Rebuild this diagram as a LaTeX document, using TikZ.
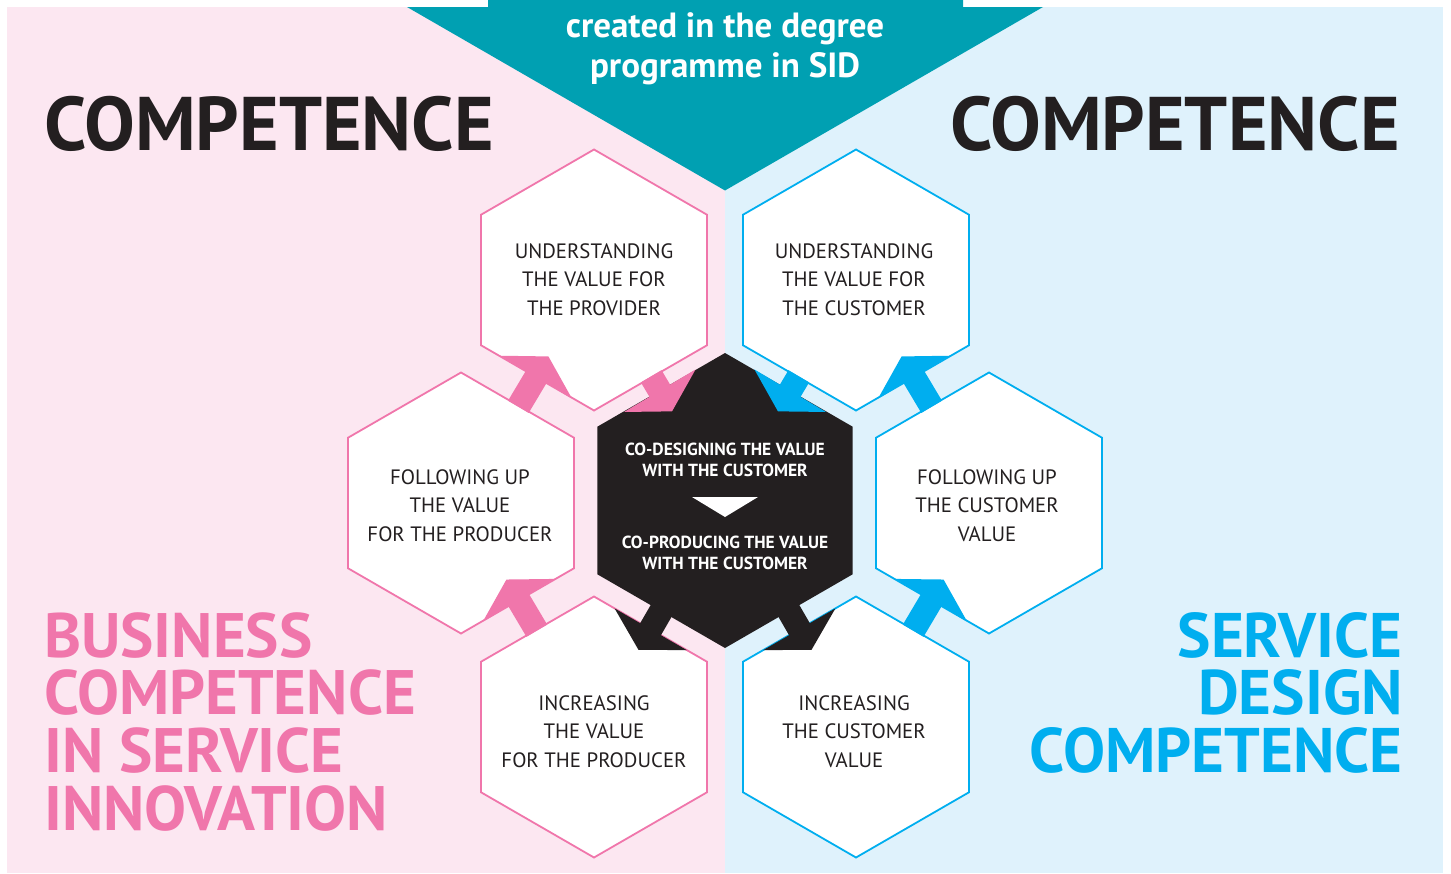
\documentclass[tikz,border=0pt]{standalone}
\usepackage{fontspec}
\setmainfont{PT Sans}
\usetikzlibrary{calc}
\definecolor{bgpink}{HTML}{FCE7F1}
\definecolor{bgblue}{HTML}{DFF2FC}
\definecolor{mpink}{HTML}{F076AB}
\definecolor{mblue}{HTML}{00AEEF}
\definecolor{mteal}{HTML}{00A0B2}
\definecolor{mblack}{HTML}{231F20}
\newcommand\hexshape[3]{%
  \path[#3] ($(#1)+(90:#2)$) -- ($(#1)+(30:#2)$) -- ($(#1)+(-30:#2)$) -- ($(#1)+(-90:#2)$) -- ($(#1)+(-150:#2)$) -- ($(#1)+(150:#2)$) -- cycle;}
\newcommand\flowarrow[6]{%
  \coordinate (fa-#1-#2) at ($(#1)!#3!(#2)$);
  \coordinate (fb-#1-#2) at ($(#2)!#4!(#1)$);
  \coordinate (tip-#1-#2) at ($(#2)!#5!(#1)$);
  \fill[#6] (tip-#1-#2) -- ($(fb-#1-#2)!41.6pt!90:(#1)$) -- ($(fb-#1-#2)!41.6pt!-90:(#1)$) -- cycle;
  \draw[#6, line width=24pt] ($(fa-#1-#2)!-1pt!(fb-#1-#2)$) -- ($(fb-#1-#2)!-1pt!(fa-#1-#2)$);}
\begin{document}
\begin{tikzpicture}[x=1pt,y=-1pt,
  hexpink/.style={fill=white, draw=mpink, line width=1.8pt},
  hexblue/.style={fill=white, draw=mblue, line width=1.8pt},
  hexcore/.style={fill=mblack},
  hextext/.style={align=center, text=mblack, inner sep=0pt, font=\fontsize{20.8}{28.5}\selectfont},
  midtext/.style={align=center, text=white, inner sep=0pt, font=\bfseries\fontsize{17.5}{21}\selectfont},
  bigtitle/.style={inner sep=0pt, text=mblack, font=\bfseries\fontsize{76}{76}\selectfont},
  pinktitle/.style={inner sep=0pt, text=mpink, anchor=base west, font=\bfseries\fontsize{62.8}{62}\selectfont},
  bluetitle/.style={inner sep=0pt, text=mblue, anchor=base east, font=\bfseries\fontsize{63}{62}\selectfont},
  tealtext/.style={inner sep=0pt, text=white, anchor=base, font=\bfseries\fontsize{35}{40}\selectfont}]
\useasboundingbox (0,0) rectangle (1451,873);
% backgrounds
\fill[bgpink] (7,7) rectangle (725,873);
\fill[bgblue] (725,7) rectangle (1443,873);
\fill[mteal] (488,-2) -- (963,-2) -- (963,7) -- (1043,7) -- (725,190.5) -- (407,7) -- (488,7) -- cycle;
% hex centres
\coordinate (C) at (725,500.5);
\coordinate (TL) at (594,280);
\coordinate (TR) at (856,280);
\coordinate (ML) at (461,503);
\coordinate (MR) at (989,503);
\coordinate (BL) at (594,727);
\coordinate (BR) at (856,727);
% hexagons
\hexshape{TL}{130.5pt}{hexpink}
\hexshape{ML}{130.5pt}{hexpink}
\hexshape{BL}{130.5pt}{hexpink}
\hexshape{TR}{130.5pt}{hexblue}
\hexshape{MR}{130.5pt}{hexblue}
\hexshape{BR}{130.5pt}{hexblue}
\hexshape{C}{147.5pt}{hexcore}
% flow arrows
\flowarrow{ML}{TL}{113pt}{113pt}{89pt}{mpink}
\flowarrow{TL}{C}{113pt}{127.7pt}{103.7pt}{mpink}
\flowarrow{C}{BL}{127.7pt}{113pt}{89pt}{mblack}
\flowarrow{BL}{ML}{113pt}{113pt}{89pt}{mpink}
\flowarrow{MR}{TR}{113pt}{113pt}{89pt}{mblue}
\flowarrow{TR}{C}{113pt}{127.7pt}{103.7pt}{mblue}
\flowarrow{C}{BR}{127.7pt}{113pt}{89pt}{mblack}
\flowarrow{BR}{MR}{113pt}{113pt}{89pt}{mblue}
% centre arrow
\coordinate (dtl) at (692,497);
\coordinate (dtr) at (758,497);
\coordinate (dtb) at (725,517);
\fill[white] (dtl) -- (dtr) -- (dtb) -- cycle;
% texts
\node[tealtext] (t1) at (725,37) {created in the degree};
\node[tealtext] (t2) at (725,77) {programme in SID};
\node[bigtitle, anchor=base west] (cl) at (44,150) {COMPETENCE};
\node[bigtitle, anchor=base east] (cr) at (1400,150) {COMPETENCE};
\node[pinktitle] (p1) at (44,657) {BUSINESS};
\node[pinktitle] (p2) at (44,714) {COMPETENCE};
\node[pinktitle] (p3) at (44,772) {IN SERVICE};
\node[pinktitle] (p4) at (44,830) {INNOVATION};
\node[bluetitle] (b1) at (1403,657) {SERVICE};
\node[bluetitle] (b2) at (1403,714) {DESIGN};
\node[bluetitle] (b3) at (1403,772) {COMPETENCE};
\node[hextext] (nTL) at (594,279.5) {UNDERSTANDING\\THE VALUE FOR\\THE PROVIDER};
\node[hextext] (nTR) at (854,279.5) {UNDERSTANDING\\THE VALUE FOR\\THE CUSTOMER};
\node[hextext] (nML) at (460,505.5) {FOLLOWING UP\\THE VALUE\\FOR THE PRODUCER};
\node[hextext] (nMR) at (987,505.5) {FOLLOWING UP\\THE CUSTOMER\\VALUE};
\node[hextext] (nBL) at (594,731.5) {INCREASING\\THE VALUE\\FOR THE PRODUCER};
\node[hextext] (nBR) at (854,731.5) {INCREASING\\THE CUSTOMER\\VALUE};
\node[midtext] (nC1) at (725,459.5) {CO-DESIGNING THE VALUE\\WITH THE CUSTOMER};
\node[midtext] (nC2) at (725,552.5) {CO-PRODUCING THE VALUE\\WITH THE CUSTOMER};
\end{tikzpicture}
\end{document}
